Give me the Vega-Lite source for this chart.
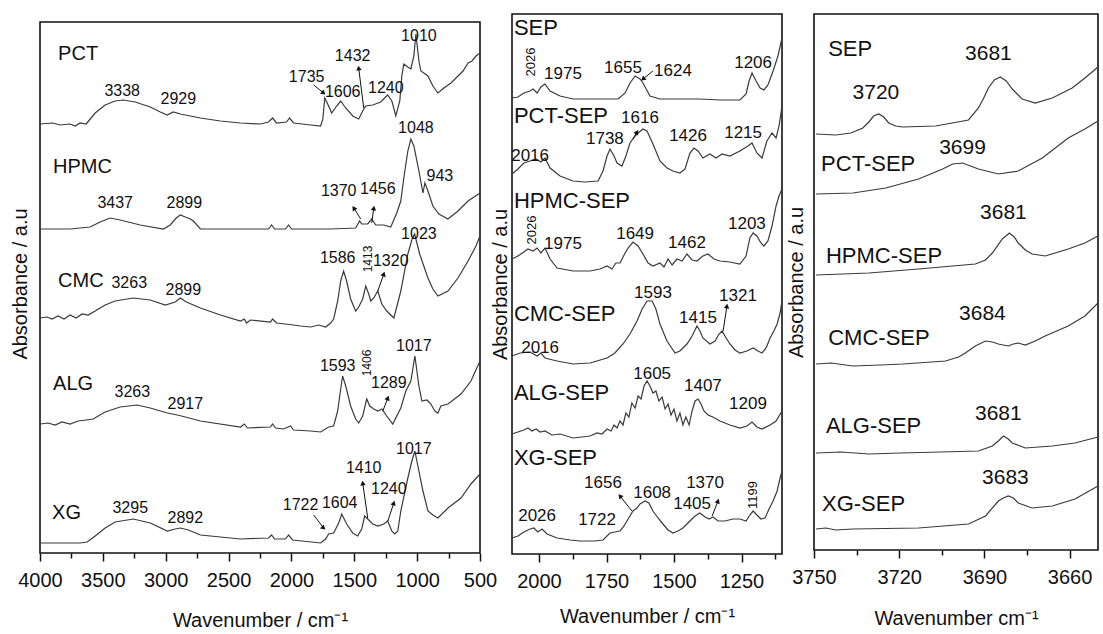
{
"$schema": "https://vega.github.io/schema/vega-lite/v6.json",
"background": "white",
"padding": {"left": 10, "top": 13, "right": 2, "bottom": 0},
"config": {
  "font": "Liberation Sans",
  "view": {"stroke": "#111", "strokeWidth": 1.6},
  "axis": {"grid": false, "domain": false, "labelFont": "Liberation Sans", "titleFont": "Liberation Sans", "labelFontSize": 20, "titleFontSize": 20, "titleFontWeight": "normal", "labelColor": "#111", "titleColor": "#111", "tickColor": "#111", "tickWidth": 1.5}
},
"datasets": {
  "frame1": [{"w": 4000, "w2": 500, "a": 0, "a2": 531}],
  "p1": [
    {"s":"PCT","w":4000,"a":429},{"s":"PCT","w":3900,"a":430},{"s":"PCT","w":3841,"a":428},{"s":"PCT","w":3761,"a":429},{"s":"PCT","w":3720,"a":427},{"s":"PCT","w":3681,"a":430},{"s":"PCT","w":3633,"a":429},{"s":"PCT","w":3561,"a":440},{"s":"PCT","w":3482,"a":448},{"s":"PCT","w":3402,"a":452},{"s":"PCT","w":3338,"a":453},{"s":"PCT","w":3243,"a":451},{"s":"PCT","w":3123,"a":446},{"s":"PCT","w":3043,"a":441},{"s":"PCT","w":2987,"a":438},{"s":"PCT","w":2940,"a":441},{"s":"PCT","w":2884,"a":439},{"s":"PCT","w":2724,"a":435},{"s":"PCT","w":2565,"a":432},{"s":"PCT","w":2405,"a":430},{"s":"PCT","w":2246,"a":429},{"s":"PCT","w":2182,"a":431},{"s":"PCT","w":2150,"a":435},{"s":"PCT","w":2118,"a":430},{"s":"PCT","w":2039,"a":431},{"s":"PCT","w":2015,"a":435},{"s":"PCT","w":1983,"a":430},{"s":"PCT","w":1847,"a":428},{"s":"PCT","w":1768,"a":427},{"s":"PCT","w":1750,"a":434},{"s":"PCT","w":1735,"a":455},{"s":"PCT","w":1704,"a":447},{"s":"PCT","w":1680,"a":440},{"s":"PCT","w":1640,"a":447},{"s":"PCT","w":1608,"a":452},{"s":"PCT","w":1568,"a":445},{"s":"PCT","w":1512,"a":437},{"s":"PCT","w":1465,"a":434},{"s":"PCT","w":1433,"a":442},{"s":"PCT","w":1409,"a":447},{"s":"PCT","w":1353,"a":448},{"s":"PCT","w":1290,"a":451},{"s":"PCT","w":1235,"a":458},{"s":"PCT","w":1201,"a":452},{"s":"PCT","w":1170,"a":437},{"s":"PCT","w":1138,"a":452},{"s":"PCT","w":1122,"a":477},{"s":"PCT","w":1106,"a":489},{"s":"PCT","w":1074,"a":486},{"s":"PCT","w":1050,"a":484},{"s":"PCT","w":1026,"a":497},{"s":"PCT","w":1010,"a":519},{"s":"PCT","w":986,"a":492},{"s":"PCT","w":970,"a":482},{"s":"PCT","w":914,"a":477},{"s":"PCT","w":875,"a":467},{"s":"PCT","w":835,"a":460},{"s":"PCT","w":787,"a":465},{"s":"PCT","w":731,"a":470},{"s":"PCT","w":675,"a":477},{"s":"PCT","w":635,"a":482},{"s":"PCT","w":595,"a":490},{"s":"PCT","w":564,"a":492},{"s":"PCT","w":532,"a":497},{"s":"PCT","w":500,"a":500},
    {"s":"HPMC","w":4000,"a":324},{"s":"HPMC","w":3761,"a":324},{"s":"HPMC","w":3601,"a":326},{"s":"HPMC","w":3522,"a":331},{"s":"HPMC","w":3442,"a":335},{"s":"HPMC","w":3362,"a":333},{"s":"HPMC","w":3203,"a":328},{"s":"HPMC","w":3019,"a":324},{"s":"HPMC","w":2964,"a":328},{"s":"HPMC","w":2916,"a":335},{"s":"HPMC","w":2884,"a":338},{"s":"HPMC","w":2844,"a":336},{"s":"HPMC","w":2804,"a":334},{"s":"HPMC","w":2780,"a":332},{"s":"HPMC","w":2724,"a":324},{"s":"HPMC","w":2405,"a":324},{"s":"HPMC","w":2182,"a":324},{"s":"HPMC","w":2158,"a":328},{"s":"HPMC","w":2134,"a":324},{"s":"HPMC","w":2047,"a":324},{"s":"HPMC","w":2023,"a":328},{"s":"HPMC","w":1999,"a":324},{"s":"HPMC","w":1688,"a":324},{"s":"HPMC","w":1489,"a":325},{"s":"HPMC","w":1457,"a":332},{"s":"HPMC","w":1441,"a":329},{"s":"HPMC","w":1393,"a":329},{"s":"HPMC","w":1361,"a":334},{"s":"HPMC","w":1329,"a":328},{"s":"HPMC","w":1265,"a":328},{"s":"HPMC","w":1210,"a":326},{"s":"HPMC","w":1162,"a":340},{"s":"HPMC","w":1130,"a":352},{"s":"HPMC","w":1106,"a":375},{"s":"HPMC","w":1074,"a":402},{"s":"HPMC","w":1050,"a":414},{"s":"HPMC","w":1026,"a":407},{"s":"HPMC","w":986,"a":382},{"s":"HPMC","w":954,"a":360},{"s":"HPMC","w":938,"a":370},{"s":"HPMC","w":914,"a":362},{"s":"HPMC","w":875,"a":347},{"s":"HPMC","w":827,"a":339},{"s":"HPMC","w":755,"a":334},{"s":"HPMC","w":675,"a":342},{"s":"HPMC","w":595,"a":352},{"s":"HPMC","w":500,"a":360},
    {"s":"CMC","w":4000,"a":235},{"s":"CMC","w":3944,"a":236},{"s":"CMC","w":3904,"a":234},{"s":"CMC","w":3856,"a":237},{"s":"CMC","w":3809,"a":234},{"s":"CMC","w":3761,"a":238},{"s":"CMC","w":3713,"a":235},{"s":"CMC","w":3665,"a":239},{"s":"CMC","w":3617,"a":238},{"s":"CMC","w":3561,"a":242},{"s":"CMC","w":3482,"a":248},{"s":"CMC","w":3402,"a":252},{"s":"CMC","w":3258,"a":255},{"s":"CMC","w":3123,"a":253},{"s":"CMC","w":3003,"a":248},{"s":"CMC","w":2924,"a":251},{"s":"CMC","w":2884,"a":255},{"s":"CMC","w":2836,"a":251},{"s":"CMC","w":2724,"a":245},{"s":"CMC","w":2565,"a":238},{"s":"CMC","w":2405,"a":232},{"s":"CMC","w":2374,"a":234},{"s":"CMC","w":2358,"a":230},{"s":"CMC","w":2326,"a":233},{"s":"CMC","w":2166,"a":231},{"s":"CMC","w":2150,"a":234},{"s":"CMC","w":2118,"a":230},{"s":"CMC","w":1983,"a":228},{"s":"CMC","w":1927,"a":227},{"s":"CMC","w":1847,"a":226},{"s":"CMC","w":1784,"a":228},{"s":"CMC","w":1728,"a":226},{"s":"CMC","w":1688,"a":230},{"s":"CMC","w":1664,"a":234},{"s":"CMC","w":1632,"a":252},{"s":"CMC","w":1608,"a":272},{"s":"CMC","w":1585,"a":282},{"s":"CMC","w":1561,"a":272},{"s":"CMC","w":1529,"a":254},{"s":"CMC","w":1489,"a":242},{"s":"CMC","w":1465,"a":246},{"s":"CMC","w":1433,"a":254},{"s":"CMC","w":1409,"a":267},{"s":"CMC","w":1385,"a":259},{"s":"CMC","w":1369,"a":252},{"s":"CMC","w":1345,"a":255},{"s":"CMC","w":1313,"a":262},{"s":"CMC","w":1281,"a":249},{"s":"CMC","w":1242,"a":242},{"s":"CMC","w":1185,"a":235},{"s":"CMC","w":1130,"a":262},{"s":"CMC","w":1074,"a":299},{"s":"CMC","w":1040,"a":314},{"s":"CMC","w":1020,"a":319},{"s":"CMC","w":980,"a":299},{"s":"CMC","w":914,"a":275},{"s":"CMC","w":875,"a":264},{"s":"CMC","w":835,"a":257},{"s":"CMC","w":755,"a":262},{"s":"CMC","w":675,"a":275},{"s":"CMC","w":595,"a":292},{"s":"CMC","w":532,"a":307},{"s":"CMC","w":500,"a":317},
    {"s":"ALG","w":4000,"a":129},{"s":"ALG","w":3936,"a":130},{"s":"ALG","w":3880,"a":128},{"s":"ALG","w":3825,"a":131},{"s":"ALG","w":3761,"a":129},{"s":"ALG","w":3697,"a":132},{"s":"ALG","w":3633,"a":133},{"s":"ALG","w":3577,"a":134},{"s":"ALG","w":3482,"a":141},{"s":"ALG","w":3362,"a":146},{"s":"ALG","w":3227,"a":148},{"s":"ALG","w":3123,"a":145},{"s":"ALG","w":2987,"a":140},{"s":"ALG","w":2907,"a":138},{"s":"ALG","w":2844,"a":136},{"s":"ALG","w":2724,"a":132},{"s":"ALG","w":2405,"a":126},{"s":"ALG","w":2374,"a":129},{"s":"ALG","w":2350,"a":125},{"s":"ALG","w":2166,"a":126},{"s":"ALG","w":2150,"a":129},{"s":"ALG","w":2126,"a":125},{"s":"ALG","w":2063,"a":124},{"s":"ALG","w":2007,"a":127},{"s":"ALG","w":1983,"a":123},{"s":"ALG","w":1847,"a":122},{"s":"ALG","w":1768,"a":121},{"s":"ALG","w":1704,"a":126},{"s":"ALG","w":1664,"a":127},{"s":"ALG","w":1632,"a":142},{"s":"ALG","w":1608,"a":164},{"s":"ALG","w":1593,"a":177},{"s":"ALG","w":1568,"a":167},{"s":"ALG","w":1529,"a":147},{"s":"ALG","w":1489,"a":134},{"s":"ALG","w":1465,"a":130},{"s":"ALG","w":1433,"a":137},{"s":"ALG","w":1401,"a":154},{"s":"ALG","w":1377,"a":147},{"s":"ALG","w":1345,"a":144},{"s":"ALG","w":1313,"a":142},{"s":"ALG","w":1281,"a":144},{"s":"ALG","w":1242,"a":137},{"s":"ALG","w":1194,"a":129},{"s":"ALG","w":1130,"a":145},{"s":"ALG","w":1090,"a":162},{"s":"ALG","w":1050,"a":172},{"s":"ALG","w":1018,"a":197},{"s":"ALG","w":986,"a":167},{"s":"ALG","w":962,"a":152},{"s":"ALG","w":922,"a":153},{"s":"ALG","w":891,"a":149},{"s":"ALG","w":859,"a":142},{"s":"ALG","w":835,"a":140},{"s":"ALG","w":811,"a":147},{"s":"ALG","w":755,"a":149},{"s":"ALG","w":651,"a":159},{"s":"ALG","w":572,"a":172},{"s":"ALG","w":500,"a":192},
    {"s":"XG","w":4000,"a":10},{"s":"XG","w":3841,"a":10},{"s":"XG","w":3681,"a":10},{"s":"XG","w":3625,"a":11},{"s":"XG","w":3561,"a":17},{"s":"XG","w":3482,"a":25},{"s":"XG","w":3402,"a":31},{"s":"XG","w":3258,"a":34},{"s":"XG","w":3123,"a":30},{"s":"XG","w":2987,"a":22},{"s":"XG","w":2924,"a":24},{"s":"XG","w":2884,"a":25},{"s":"XG","w":2820,"a":23},{"s":"XG","w":2724,"a":18},{"s":"XG","w":2405,"a":14},{"s":"XG","w":2182,"a":15},{"s":"XG","w":2158,"a":18},{"s":"XG","w":2134,"a":14},{"s":"XG","w":2047,"a":14},{"s":"XG","w":2023,"a":18},{"s":"XG","w":1991,"a":13},{"s":"XG","w":1768,"a":10},{"s":"XG","w":1728,"a":14},{"s":"XG","w":1704,"a":19},{"s":"XG","w":1664,"a":20},{"s":"XG","w":1624,"a":30},{"s":"XG","w":1600,"a":39},{"s":"XG","w":1561,"a":29},{"s":"XG","w":1512,"a":20},{"s":"XG","w":1473,"a":17},{"s":"XG","w":1441,"a":24},{"s":"XG","w":1417,"a":37},{"s":"XG","w":1393,"a":34},{"s":"XG","w":1353,"a":29},{"s":"XG","w":1313,"a":27},{"s":"XG","w":1265,"a":29},{"s":"XG","w":1234,"a":32},{"s":"XG","w":1202,"a":22},{"s":"XG","w":1178,"a":19},{"s":"XG","w":1154,"a":22},{"s":"XG","w":1130,"a":42},{"s":"XG","w":1074,"a":75},{"s":"XG","w":1042,"a":92},{"s":"XG","w":1018,"a":102},{"s":"XG","w":986,"a":82},{"s":"XG","w":954,"a":62},{"s":"XG","w":914,"a":42},{"s":"XG","w":875,"a":38},{"s":"XG","w":835,"a":35},{"s":"XG","w":755,"a":45},{"s":"XG","w":651,"a":55},{"s":"XG","w":572,"a":69},{"s":"XG","w":500,"a":79}
  ],
  "n1": [
    {"w":3856,"a":499,"t":"PCT"},{"w":3896,"a":386,"t":"HPMC"},{"w":3856,"a":272,"t":"CMC"},{"w":3896,"a":169,"t":"ALG"},{"w":3904,"a":40,"t":"XG"}
  ],
  "k1": [
    {"w":3346,"a":462,"t":"3338"},{"w":2900,"a":454,"t":"2929"},{"w":1879,"a":476,"t":"1735"},{"w":1592,"a":461,"t":"1606"},{"w":1513,"a":497,"t":"1432"},{"w":1249,"a":465,"t":"1240"},{"w":986,"a":517,"t":"1010"},
    {"w":1010,"a":425,"t":"1048"},{"w":819,"a":377,"t":"943"},{"w":1624,"a":362,"t":"1370"},{"w":1313,"a":364,"t":"1456"},{"w":3402,"a":350,"t":"3437"},{"w":2852,"a":350,"t":"2899"},
    {"w":986,"a":319,"t":"1023"},{"w":1632,"a":295,"t":"1586"},{"w":1210,"a":292,"t":"1320"},{"w":3290,"a":270,"t":"3263"},{"w":2860,"a":263,"t":"2899"},
    {"w":1026,"a":207,"t":"1017"},{"w":1632,"a":187,"t":"1593"},{"w":1225,"a":170,"t":"1289"},{"w":3266,"a":161,"t":"3263"},{"w":2844,"a":149,"t":"2917"},
    {"w":1026,"a":104,"t":"1017"},{"w":1425,"a":85,"t":"1410"},{"w":1225,"a":64,"t":"1240"},{"w":1927,"a":48,"t":"1722"},{"w":1616,"a":50,"t":"1604"},{"w":3282,"a":45,"t":"3295"},{"w":2844,"a":35,"t":"2892"}
  ],
  "r1": [
    {"w":1393,"a":294,"t":"1413"},{"w":1401,"a":190,"t":"1406"}
  ],
  "ar1": [
    {"w":1823,"a":468,"w2":1744,"a2":460,"d":129},{"w":1425,"a":445,"w2":1465,"a2":485,"d":-7},{"w":1449,"a":334,"w2":1504,"a2":345,"d":-32},{"w":1361,"a":330,"w2":1345,"a2":345,"d":8},{"w":1313,"a":262,"w2":1265,"a2":279,"d":19},{"w":1273,"a":142,"w2":1233,"a2":155,"d":21},{"w":1823,"a":38,"w2":1744,"a2":25,"d":132},{"w":1393,"a":35,"w2":1433,"a2":70,"d":-8},{"w":1233,"a":32,"w2":1186,"a2":50,"d":18}
  ],
  "p2": [
    {"s":"SEP","w":2100,"a":456},{"s":"SEP","w":2078,"a":457},{"s":"SEP","w":2056,"a":461},{"s":"SEP","w":2033,"a":463},{"s":"SEP","w":2022,"a":465},{"s":"SEP","w":2007,"a":461},{"s":"SEP","w":1993,"a":467},{"s":"SEP","w":1978,"a":470},{"s":"SEP","w":1959,"a":463},{"s":"SEP","w":1937,"a":460},{"s":"SEP","w":1922,"a":458},{"s":"SEP","w":1874,"a":455},{"s":"SEP","w":1774,"a":455},{"s":"SEP","w":1707,"a":455},{"s":"SEP","w":1681,"a":461},{"s":"SEP","w":1663,"a":471},{"s":"SEP","w":1644,"a":478},{"s":"SEP","w":1626,"a":475},{"s":"SEP","w":1615,"a":471},{"s":"SEP","w":1589,"a":458},{"s":"SEP","w":1552,"a":455},{"s":"SEP","w":1504,"a":455},{"s":"SEP","w":1404,"a":455},{"s":"SEP","w":1330,"a":454},{"s":"SEP","w":1256,"a":454},{"s":"SEP","w":1233,"a":460},{"s":"SEP","w":1222,"a":473},{"s":"SEP","w":1211,"a":481},{"s":"SEP","w":1196,"a":473},{"s":"SEP","w":1181,"a":466},{"s":"SEP","w":1167,"a":464},{"s":"SEP","w":1152,"a":469},{"s":"SEP","w":1133,"a":483},{"s":"SEP","w":1115,"a":498},{"s":"SEP","w":1100,"a":516},
    {"s":"PCT-SEP","w":2100,"a":380},{"s":"PCT-SEP","w":2078,"a":385},{"s":"PCT-SEP","w":2056,"a":391},{"s":"PCT-SEP","w":2033,"a":393},{"s":"PCT-SEP","w":2011,"a":395},{"s":"PCT-SEP","w":1993,"a":392},{"s":"PCT-SEP","w":1978,"a":396},{"s":"PCT-SEP","w":1959,"a":386},{"s":"PCT-SEP","w":1922,"a":378},{"s":"PCT-SEP","w":1874,"a":373},{"s":"PCT-SEP","w":1830,"a":372},{"s":"PCT-SEP","w":1781,"a":373},{"s":"PCT-SEP","w":1763,"a":383},{"s":"PCT-SEP","w":1748,"a":398},{"s":"PCT-SEP","w":1737,"a":405},{"s":"PCT-SEP","w":1722,"a":398},{"s":"PCT-SEP","w":1711,"a":391},{"s":"PCT-SEP","w":1693,"a":388},{"s":"PCT-SEP","w":1678,"a":398},{"s":"PCT-SEP","w":1663,"a":411},{"s":"PCT-SEP","w":1644,"a":418},{"s":"PCT-SEP","w":1633,"a":421},{"s":"PCT-SEP","w":1615,"a":425},{"s":"PCT-SEP","w":1600,"a":423},{"s":"PCT-SEP","w":1578,"a":410},{"s":"PCT-SEP","w":1552,"a":393},{"s":"PCT-SEP","w":1526,"a":386},{"s":"PCT-SEP","w":1504,"a":383},{"s":"PCT-SEP","w":1478,"a":381},{"s":"PCT-SEP","w":1459,"a":385},{"s":"PCT-SEP","w":1441,"a":401},{"s":"PCT-SEP","w":1426,"a":406},{"s":"PCT-SEP","w":1411,"a":403},{"s":"PCT-SEP","w":1393,"a":396},{"s":"PCT-SEP","w":1367,"a":400},{"s":"PCT-SEP","w":1344,"a":396},{"s":"PCT-SEP","w":1322,"a":400},{"s":"PCT-SEP","w":1293,"a":398},{"s":"PCT-SEP","w":1256,"a":403},{"s":"PCT-SEP","w":1226,"a":408},{"s":"PCT-SEP","w":1211,"a":411},{"s":"PCT-SEP","w":1193,"a":401},{"s":"PCT-SEP","w":1174,"a":396},{"s":"PCT-SEP","w":1156,"a":413},{"s":"PCT-SEP","w":1137,"a":421},{"s":"PCT-SEP","w":1122,"a":416},{"s":"PCT-SEP","w":1111,"a":428},{"s":"PCT-SEP","w":1100,"a":448},
    {"s":"HPMC-SEP","w":2100,"a":295},{"s":"HPMC-SEP","w":2078,"a":298},{"s":"HPMC-SEP","w":2056,"a":302},{"s":"HPMC-SEP","w":2041,"a":305},{"s":"HPMC-SEP","w":2022,"a":303},{"s":"HPMC-SEP","w":2007,"a":306},{"s":"HPMC-SEP","w":1993,"a":301},{"s":"HPMC-SEP","w":1978,"a":306},{"s":"HPMC-SEP","w":1959,"a":295},{"s":"HPMC-SEP","w":1933,"a":286},{"s":"HPMC-SEP","w":1874,"a":283},{"s":"HPMC-SEP","w":1811,"a":283},{"s":"HPMC-SEP","w":1774,"a":285},{"s":"HPMC-SEP","w":1748,"a":288},{"s":"HPMC-SEP","w":1730,"a":285},{"s":"HPMC-SEP","w":1715,"a":291},{"s":"HPMC-SEP","w":1700,"a":291},{"s":"HPMC-SEP","w":1681,"a":301},{"s":"HPMC-SEP","w":1670,"a":306},{"s":"HPMC-SEP","w":1652,"a":312},{"s":"HPMC-SEP","w":1633,"a":308},{"s":"HPMC-SEP","w":1615,"a":300},{"s":"HPMC-SEP","w":1596,"a":291},{"s":"HPMC-SEP","w":1578,"a":288},{"s":"HPMC-SEP","w":1552,"a":291},{"s":"HPMC-SEP","w":1537,"a":287},{"s":"HPMC-SEP","w":1522,"a":295},{"s":"HPMC-SEP","w":1507,"a":289},{"s":"HPMC-SEP","w":1489,"a":295},{"s":"HPMC-SEP","w":1470,"a":293},{"s":"HPMC-SEP","w":1452,"a":300},{"s":"HPMC-SEP","w":1433,"a":294},{"s":"HPMC-SEP","w":1415,"a":293},{"s":"HPMC-SEP","w":1393,"a":298},{"s":"HPMC-SEP","w":1374,"a":300},{"s":"HPMC-SEP","w":1352,"a":295},{"s":"HPMC-SEP","w":1330,"a":293},{"s":"HPMC-SEP","w":1293,"a":292},{"s":"HPMC-SEP","w":1256,"a":290},{"s":"HPMC-SEP","w":1233,"a":298},{"s":"HPMC-SEP","w":1219,"a":316},{"s":"HPMC-SEP","w":1207,"a":321},{"s":"HPMC-SEP","w":1193,"a":318},{"s":"HPMC-SEP","w":1178,"a":311},{"s":"HPMC-SEP","w":1167,"a":308},{"s":"HPMC-SEP","w":1152,"a":313},{"s":"HPMC-SEP","w":1137,"a":328},{"s":"HPMC-SEP","w":1122,"a":348},{"s":"HPMC-SEP","w":1111,"a":358},{"s":"HPMC-SEP","w":1100,"a":365},
    {"s":"CMC-SEP","w":2100,"a":198},{"s":"CMC-SEP","w":2070,"a":201},{"s":"CMC-SEP","w":2033,"a":202},{"s":"CMC-SEP","w":2007,"a":198},{"s":"CMC-SEP","w":1993,"a":201},{"s":"CMC-SEP","w":1978,"a":196},{"s":"CMC-SEP","w":1933,"a":193},{"s":"CMC-SEP","w":1874,"a":190},{"s":"CMC-SEP","w":1811,"a":191},{"s":"CMC-SEP","w":1748,"a":196},{"s":"CMC-SEP","w":1719,"a":201},{"s":"CMC-SEP","w":1689,"a":210},{"s":"CMC-SEP","w":1663,"a":220},{"s":"CMC-SEP","w":1637,"a":233},{"s":"CMC-SEP","w":1618,"a":245},{"s":"CMC-SEP","w":1600,"a":253},{"s":"CMC-SEP","w":1581,"a":253},{"s":"CMC-SEP","w":1567,"a":245},{"s":"CMC-SEP","w":1552,"a":230},{"s":"CMC-SEP","w":1526,"a":213},{"s":"CMC-SEP","w":1496,"a":201},{"s":"CMC-SEP","w":1478,"a":203},{"s":"CMC-SEP","w":1452,"a":210},{"s":"CMC-SEP","w":1433,"a":218},{"s":"CMC-SEP","w":1415,"a":228},{"s":"CMC-SEP","w":1404,"a":223},{"s":"CMC-SEP","w":1393,"a":216},{"s":"CMC-SEP","w":1367,"a":210},{"s":"CMC-SEP","w":1348,"a":213},{"s":"CMC-SEP","w":1333,"a":220},{"s":"CMC-SEP","w":1322,"a":223},{"s":"CMC-SEP","w":1307,"a":216},{"s":"CMC-SEP","w":1293,"a":210},{"s":"CMC-SEP","w":1274,"a":204},{"s":"CMC-SEP","w":1256,"a":201},{"s":"CMC-SEP","w":1230,"a":203},{"s":"CMC-SEP","w":1207,"a":206},{"s":"CMC-SEP","w":1189,"a":203},{"s":"CMC-SEP","w":1174,"a":201},{"s":"CMC-SEP","w":1159,"a":206},{"s":"CMC-SEP","w":1144,"a":216},{"s":"CMC-SEP","w":1130,"a":223},{"s":"CMC-SEP","w":1118,"a":230},{"s":"CMC-SEP","w":1107,"a":241},{"s":"CMC-SEP","w":1100,"a":253},
    {"s":"ALG-SEP","w":2100,"a":120},{"s":"ALG-SEP","w":2078,"a":122},{"s":"ALG-SEP","w":2056,"a":124},{"s":"ALG-SEP","w":2041,"a":126},{"s":"ALG-SEP","w":2026,"a":123},{"s":"ALG-SEP","w":2011,"a":125},{"s":"ALG-SEP","w":1996,"a":122},{"s":"ALG-SEP","w":1978,"a":123},{"s":"ALG-SEP","w":1952,"a":119},{"s":"ALG-SEP","w":1922,"a":120},{"s":"ALG-SEP","w":1874,"a":116},{"s":"ALG-SEP","w":1841,"a":117},{"s":"ALG-SEP","w":1811,"a":118},{"s":"ALG-SEP","w":1785,"a":121},{"s":"ALG-SEP","w":1767,"a":120},{"s":"ALG-SEP","w":1748,"a":125},{"s":"ALG-SEP","w":1733,"a":123},{"s":"ALG-SEP","w":1722,"a":129},{"s":"ALG-SEP","w":1711,"a":126},{"s":"ALG-SEP","w":1700,"a":133},{"s":"ALG-SEP","w":1689,"a":129},{"s":"ALG-SEP","w":1678,"a":141},{"s":"ALG-SEP","w":1667,"a":137},{"s":"ALG-SEP","w":1656,"a":151},{"s":"ALG-SEP","w":1644,"a":146},{"s":"ALG-SEP","w":1633,"a":158},{"s":"ALG-SEP","w":1622,"a":155},{"s":"ALG-SEP","w":1611,"a":168},{"s":"ALG-SEP","w":1600,"a":173},{"s":"ALG-SEP","w":1589,"a":168},{"s":"ALG-SEP","w":1578,"a":161},{"s":"ALG-SEP","w":1567,"a":163},{"s":"ALG-SEP","w":1556,"a":153},{"s":"ALG-SEP","w":1544,"a":157},{"s":"ALG-SEP","w":1533,"a":145},{"s":"ALG-SEP","w":1522,"a":150},{"s":"ALG-SEP","w":1511,"a":139},{"s":"ALG-SEP","w":1500,"a":145},{"s":"ALG-SEP","w":1489,"a":133},{"s":"ALG-SEP","w":1478,"a":141},{"s":"ALG-SEP","w":1467,"a":129},{"s":"ALG-SEP","w":1456,"a":137},{"s":"ALG-SEP","w":1444,"a":129},{"s":"ALG-SEP","w":1433,"a":143},{"s":"ALG-SEP","w":1422,"a":153},{"s":"ALG-SEP","w":1411,"a":155},{"s":"ALG-SEP","w":1400,"a":150},{"s":"ALG-SEP","w":1389,"a":143},{"s":"ALG-SEP","w":1374,"a":139},{"s":"ALG-SEP","w":1356,"a":137},{"s":"ALG-SEP","w":1330,"a":133},{"s":"ALG-SEP","w":1293,"a":129},{"s":"ALG-SEP","w":1256,"a":126},{"s":"ALG-SEP","w":1230,"a":128},{"s":"ALG-SEP","w":1211,"a":132},{"s":"ALG-SEP","w":1193,"a":127},{"s":"ALG-SEP","w":1174,"a":125},{"s":"ALG-SEP","w":1144,"a":129},{"s":"ALG-SEP","w":1122,"a":133},{"s":"ALG-SEP","w":1100,"a":143},
    {"s":"XG-SEP","w":2100,"a":16},{"s":"XG-SEP","w":2078,"a":18},{"s":"XG-SEP","w":2056,"a":22},{"s":"XG-SEP","w":2033,"a":25},{"s":"XG-SEP","w":2019,"a":26},{"s":"XG-SEP","w":2004,"a":22},{"s":"XG-SEP","w":1989,"a":25},{"s":"XG-SEP","w":1970,"a":20},{"s":"XG-SEP","w":1933,"a":16},{"s":"XG-SEP","w":1885,"a":14},{"s":"XG-SEP","w":1848,"a":13},{"s":"XG-SEP","w":1793,"a":13},{"s":"XG-SEP","w":1763,"a":14},{"s":"XG-SEP","w":1737,"a":21},{"s":"XG-SEP","w":1719,"a":22},{"s":"XG-SEP","w":1700,"a":23},{"s":"XG-SEP","w":1685,"a":28},{"s":"XG-SEP","w":1670,"a":35},{"s":"XG-SEP","w":1652,"a":43},{"s":"XG-SEP","w":1637,"a":46},{"s":"XG-SEP","w":1626,"a":50},{"s":"XG-SEP","w":1607,"a":53},{"s":"XG-SEP","w":1593,"a":51},{"s":"XG-SEP","w":1578,"a":43},{"s":"XG-SEP","w":1559,"a":36},{"s":"XG-SEP","w":1541,"a":30},{"s":"XG-SEP","w":1522,"a":24},{"s":"XG-SEP","w":1504,"a":21},{"s":"XG-SEP","w":1485,"a":23},{"s":"XG-SEP","w":1467,"a":26},{"s":"XG-SEP","w":1441,"a":33},{"s":"XG-SEP","w":1422,"a":38},{"s":"XG-SEP","w":1404,"a":41},{"s":"XG-SEP","w":1385,"a":37},{"s":"XG-SEP","w":1370,"a":35},{"s":"XG-SEP","w":1356,"a":37},{"s":"XG-SEP","w":1337,"a":33},{"s":"XG-SEP","w":1311,"a":33},{"s":"XG-SEP","w":1282,"a":35},{"s":"XG-SEP","w":1256,"a":35},{"s":"XG-SEP","w":1233,"a":33},{"s":"XG-SEP","w":1219,"a":39},{"s":"XG-SEP","w":1207,"a":43},{"s":"XG-SEP","w":1193,"a":39},{"s":"XG-SEP","w":1178,"a":35},{"s":"XG-SEP","w":1163,"a":36},{"s":"XG-SEP","w":1148,"a":45},{"s":"XG-SEP","w":1133,"a":53},{"s":"XG-SEP","w":1118,"a":63},{"s":"XG-SEP","w":1107,"a":76},{"s":"XG-SEP","w":1100,"a":83}
  ],
  "n2": [
    {"w":2093,"a":526,"t":"SEP"},{"w":2093,"a":438,"t":"PCT-SEP"},{"w":2093,"a":353,"t":"HPMC-SEP"},{"w":2093,"a":240,"t":"CMC-SEP"},{"w":2093,"a":161,"t":"ALG-SEP"},{"w":2093,"a":96,"t":"XG-SEP"}
  ],
  "k2": [
    {"w":1911,"a":480,"t":"1975"},{"w":1689,"a":486,"t":"1655"},{"w":1504,"a":483,"t":"1624"},{"w":1207,"a":491,"t":"1206"},
    {"w":1626,"a":436,"t":"1616"},{"w":1756,"a":415,"t":"1738"},{"w":1448,"a":418,"t":"1426"},{"w":1244,"a":421,"t":"1215"},{"w":2033,"a":398,"t":"2016"},
    {"w":1911,"a":310,"t":"1975"},{"w":1644,"a":320,"t":"1649"},{"w":1452,"a":311,"t":"1462"},{"w":1230,"a":330,"t":"1203"},
    {"w":1578,"a":261,"t":"1593"},{"w":1411,"a":236,"t":"1415"},{"w":1263,"a":258,"t":"1321"},{"w":1996,"a":206,"t":"2016"},
    {"w":1581,"a":180,"t":"1605"},{"w":1393,"a":168,"t":"1407"},{"w":1226,"a":150,"t":"1209"},
    {"w":1785,"a":34,"t":"1722"},{"w":1763,"a":71,"t":"1656"},{"w":1581,"a":61,"t":"1608"},{"w":1433,"a":50,"t":"1405"},{"w":1385,"a":71,"t":"1370"},{"w":2007,"a":38,"t":"2026"}
  ],
  "r2": [
    {"w":2030,"a":492,"t":"2026"},{"w":2026,"a":324,"t":"2026"},{"w":1207,"a":59,"t":"1199"}
  ],
  "ar2": [
    {"w":1578,"a":483,"w2":1615,"a2":475,"d":-129},{"w":1652,"a":415,"w2":1637,"a2":422,"d":30},{"w":1318,"a":223,"w2":1304,"a2":248,"d":9},{"w":1656,"a":43,"w2":1700,"a2":58,"d":-39},{"w":1359,"a":38,"w2":1337,"a2":53,"d":22}
  ],
  "p3": [
    {"s":"SEP","w":3749.3,"a":416},{"s":"SEP","w":3742.3,"a":415},{"s":"SEP","w":3737,"a":417},{"s":"SEP","w":3732.8,"a":422},{"s":"SEP","w":3730.7,"a":428},{"s":"SEP","w":3729,"a":434},{"s":"SEP","w":3727.2,"a":436},{"s":"SEP","w":3725.4,"a":433},{"s":"SEP","w":3723.7,"a":427},{"s":"SEP","w":3721.2,"a":424},{"s":"SEP","w":3718.8,"a":423},{"s":"SEP","w":3707.2,"a":424},{"s":"SEP","w":3695.6,"a":430},{"s":"SEP","w":3692.1,"a":442},{"s":"SEP","w":3690.4,"a":451},{"s":"SEP","w":3688.6,"a":462},{"s":"SEP","w":3686.5,"a":470},{"s":"SEP","w":3684.4,"a":473},{"s":"SEP","w":3682.3,"a":469},{"s":"SEP","w":3680.2,"a":461},{"s":"SEP","w":3676.7,"a":451},{"s":"SEP","w":3672.1,"a":447},{"s":"SEP","w":3666.1,"a":452},{"s":"SEP","w":3659.1,"a":462},{"s":"SEP","w":3654.6,"a":472},{"s":"SEP","w":3650,"a":483},
    {"s":"PCT-SEP","w":3749.3,"a":356},{"s":"PCT-SEP","w":3736.3,"a":357},{"s":"PCT-SEP","w":3724.7,"a":362},{"s":"PCT-SEP","w":3713.2,"a":371},{"s":"PCT-SEP","w":3704.7,"a":381},{"s":"PCT-SEP","w":3701.2,"a":386},{"s":"PCT-SEP","w":3697.7,"a":387},{"s":"PCT-SEP","w":3694.9,"a":384},{"s":"PCT-SEP","w":3692.1,"a":381},{"s":"PCT-SEP","w":3685.1,"a":376},{"s":"PCT-SEP","w":3678.1,"a":379},{"s":"PCT-SEP","w":3669.6,"a":392},{"s":"PCT-SEP","w":3660.5,"a":412},{"s":"PCT-SEP","w":3654.6,"a":421},{"s":"PCT-SEP","w":3650,"a":429},
    {"s":"HPMC-SEP","w":3749.3,"a":275},{"s":"HPMC-SEP","w":3730.7,"a":277},{"s":"HPMC-SEP","w":3713.2,"a":281},{"s":"HPMC-SEP","w":3693.2,"a":286},{"s":"HPMC-SEP","w":3689.6,"a":290},{"s":"HPMC-SEP","w":3687.2,"a":297},{"s":"HPMC-SEP","w":3683.7,"a":311},{"s":"HPMC-SEP","w":3681.2,"a":317},{"s":"HPMC-SEP","w":3679.5,"a":313},{"s":"HPMC-SEP","w":3678.1,"a":307},{"s":"HPMC-SEP","w":3675.6,"a":300},{"s":"HPMC-SEP","w":3673.2,"a":296},{"s":"HPMC-SEP","w":3668.6,"a":294},{"s":"HPMC-SEP","w":3660.5,"a":301},{"s":"HPMC-SEP","w":3654.6,"a":307},{"s":"HPMC-SEP","w":3650,"a":314},
    {"s":"CMC-SEP","w":3749.3,"a":186},{"s":"CMC-SEP","w":3744,"a":187},{"s":"CMC-SEP","w":3736.3,"a":184},{"s":"CMC-SEP","w":3726.5,"a":185},{"s":"CMC-SEP","w":3718.8,"a":186},{"s":"CMC-SEP","w":3703.7,"a":189},{"s":"CMC-SEP","w":3699.1,"a":193},{"s":"CMC-SEP","w":3696.7,"a":197},{"s":"CMC-SEP","w":3693.2,"a":204},{"s":"CMC-SEP","w":3689.6,"a":209},{"s":"CMC-SEP","w":3687.2,"a":208},{"s":"CMC-SEP","w":3685.1,"a":206},{"s":"CMC-SEP","w":3681.6,"a":204},{"s":"CMC-SEP","w":3679.8,"a":206},{"s":"CMC-SEP","w":3678.1,"a":207},{"s":"CMC-SEP","w":3675.6,"a":205},{"s":"CMC-SEP","w":3672.1,"a":209},{"s":"CMC-SEP","w":3668.6,"a":214},{"s":"CMC-SEP","w":3660.5,"a":224},{"s":"CMC-SEP","w":3654.6,"a":234},{"s":"CMC-SEP","w":3650,"a":247},
    {"s":"ALG-SEP","w":3749.3,"a":97},{"s":"ALG-SEP","w":3740.5,"a":98},{"s":"ALG-SEP","w":3730.7,"a":96},{"s":"ALG-SEP","w":3719.5,"a":97},{"s":"ALG-SEP","w":3705.4,"a":98},{"s":"ALG-SEP","w":3692.1,"a":99},{"s":"ALG-SEP","w":3687.2,"a":104},{"s":"ALG-SEP","w":3685.1,"a":109},{"s":"ALG-SEP","w":3683.3,"a":114},{"s":"ALG-SEP","w":3681.6,"a":111},{"s":"ALG-SEP","w":3680.2,"a":107},{"s":"ALG-SEP","w":3675.6,"a":102},{"s":"ALG-SEP","w":3666.1,"a":104},{"s":"ALG-SEP","w":3658.1,"a":107},{"s":"ALG-SEP","w":3650,"a":113},
    {"s":"XG-SEP","w":3749.3,"a":21},{"s":"XG-SEP","w":3745.8,"a":22},{"s":"XG-SEP","w":3742.3,"a":20},{"s":"XG-SEP","w":3736.3,"a":21},{"s":"XG-SEP","w":3713.2,"a":22},{"s":"XG-SEP","w":3695.6,"a":26},{"s":"XG-SEP","w":3689.6,"a":34},{"s":"XG-SEP","w":3685.1,"a":49},{"s":"XG-SEP","w":3683.3,"a":52},{"s":"XG-SEP","w":3681.6,"a":54},{"s":"XG-SEP","w":3679.8,"a":52},{"s":"XG-SEP","w":3678.1,"a":47},{"s":"XG-SEP","w":3673.2,"a":42},{"s":"XG-SEP","w":3666.1,"a":44},{"s":"XG-SEP","w":3658.1,"a":51},{"s":"XG-SEP","w":3650,"a":64}
  ],
  "n3": [
    {"w":3745,"a":501,"t":"SEP"},{"w":3747.5,"a":386,"t":"PCT-SEP"},{"w":3745.8,"a":294,"t":"HPMC-SEP"},{"w":3745,"a":212,"t":"CMC-SEP"},{"w":3745.8,"a":124,"t":"ALG-SEP"},{"w":3747.2,"a":46,"t":"XG-SEP"}
  ],
  "k3": [
    {"w":3688.6,"a":496,"t":"3681"},{"w":3728.2,"a":457,"t":"3720"},{"w":3697.7,"a":402,"t":"3699"},{"w":3683.3,"a":337,"t":"3681"},{"w":3690.7,"a":236,"t":"3684"},{"w":3685.1,"a":136,"t":"3681"},{"w":3682.6,"a":72,"t":"3683"}
  ]
},
"bounds": "flush",
"spacing": 32,
"hconcat": [
  {
    "width": 440, "height": 539,
    "view": {"stroke": null},
    "encoding": {
      "x": {"field": "w", "type": "quantitative", "scale": {"domain": [4000, 500], "nice": false, "zero": false},
            "axis": {"title": "Wavenumber / cm⁻¹", "values": [4000,3750,3500,3250,3000,2750,2500,2250,2000,1750,1500,1250,1000,750,500], "format": "d", "labelExpr": "datum.value % 500 === 0 ? datum.label : ''", "labelFlush": false, "labelOverlap": false, "tickSize": {"condition": {"test": "datum.value % 500 === 0", "value": 8}, "value": 5}, "labelPadding": 9, "titlePadding": 20}},
      "y": {"field": "a", "type": "quantitative", "scale": {"domain": [0, 539], "nice": false, "zero": false},
            "axis": {"title": "Absorbance / a.u", "labels": false, "ticks": false, "titlePadding": 10}}
    },
    "layer": [
      {"data": {"name": "frame1"}, "mark": {"type": "rect", "filled": true, "fill": "white", "fillOpacity": 0, "stroke": "#111", "strokeWidth": 1.6}, "encoding": {"x2": {"field": "w2"}, "y2": {"field": "a2"}}},
      {"data": {"name": "p1"}, "mark": {"type": "line", "color": "#3a3a3a", "strokeWidth": 1.2}, "encoding": {"detail": {"field": "s"}}},
      {"data": {"name": "n1"}, "mark": {"type": "text", "align": "left", "baseline": "middle", "fontSize": 20, "color": "#111"}, "encoding": {"text": {"field": "t"}}},
      {"data": {"name": "k1"}, "mark": {"type": "text", "align": "center", "baseline": "middle", "fontSize": 16, "color": "#111"}, "encoding": {"text": {"field": "t"}}},
      {"data": {"name": "r1"}, "mark": {"type": "text", "align": "center", "baseline": "middle", "fontSize": 12, "angle": 270, "color": "#111"}, "encoding": {"text": {"field": "t"}}},
      {"data": {"name": "ar1"}, "mark": {"type": "rule", "color": "#111", "strokeWidth": 1}, "encoding": {"x2": {"field": "w2"}, "y2": {"field": "a2"}}},
      {"data": {"name": "ar1"}, "mark": {"type": "point", "shape": "triangle-up", "filled": true, "color": "#111", "size": 30, "opacity": 1}, "encoding": {"x": {"field": "w2", "type": "quantitative"}, "y": {"field": "a2", "type": "quantitative"}, "angle": {"field": "d", "type": "quantitative", "scale": null}}}
    ]
  },
  {
    "width": 270, "height": 540,
    "encoding": {
      "x": {"field": "w", "type": "quantitative", "scale": {"domain": [2100, 1100], "nice": false, "zero": false},
            "axis": {"title": "Wavenumber / cm⁻¹", "values": [2000,1875,1750,1625,1500,1375,1250,1125], "format": "d", "labelExpr": "datum.value % 250 === 0 ? datum.label : ''", "labelFlush": false, "labelOverlap": false, "tickSize": {"condition": {"test": "datum.value % 250 === 0", "value": 8}, "value": 5}, "labelPadding": 9, "titlePadding": 15}},
      "y": {"field": "a", "type": "quantitative", "scale": {"domain": [0, 540], "nice": false, "zero": false},
            "axis": {"title": "Absorbance / a.u", "labels": false, "ticks": false, "titlePadding": 2}}
    },
    "layer": [
      {"data": {"name": "p2"}, "mark": {"type": "line", "color": "#3a3a3a", "strokeWidth": 1.2}, "encoding": {"detail": {"field": "s"}}},
      {"data": {"name": "n2"}, "mark": {"type": "text", "align": "left", "baseline": "middle", "fontSize": 22, "color": "#111"}, "encoding": {"text": {"field": "t"}}},
      {"data": {"name": "k2"}, "mark": {"type": "text", "align": "center", "baseline": "middle", "fontSize": 17, "color": "#111"}, "encoding": {"text": {"field": "t"}}},
      {"data": {"name": "r2"}, "mark": {"type": "text", "align": "center", "baseline": "middle", "fontSize": 13, "angle": 270, "color": "#111"}, "encoding": {"text": {"field": "t"}}},
      {"data": {"name": "ar2"}, "mark": {"type": "rule", "color": "#111", "strokeWidth": 1}, "encoding": {"x2": {"field": "w2"}, "y2": {"field": "a2"}}},
      {"data": {"name": "ar2"}, "mark": {"type": "point", "shape": "triangle-up", "filled": true, "color": "#111", "size": 30, "opacity": 1}, "encoding": {"x": {"field": "w2", "type": "quantitative"}, "y": {"field": "a2", "type": "quantitative"}, "angle": {"field": "d", "type": "quantitative", "scale": null}}}
    ]
  },
  {
    "width": 284, "height": 536,
    "encoding": {
      "x": {"field": "w", "type": "quantitative", "scale": {"domain": [3750, 3650], "nice": false, "zero": false},
            "axis": {"title": "Wavenumber cm⁻¹", "values": [3750,3735,3720,3705,3690,3675,3660], "format": "d", "labelExpr": "datum.value % 30 === 0 ? datum.label : ''", "labelFlush": false, "labelOverlap": false, "tickSize": {"condition": {"test": "datum.value % 30 === 0", "value": 8}, "value": 5}, "labelPadding": 9, "titlePadding": 21}},
      "y": {"field": "a", "type": "quantitative", "scale": {"domain": [0, 536], "nice": false, "zero": false},
            "axis": {"title": "Absorbance / a.u", "labels": false, "ticks": false, "titlePadding": 8}}
    },
    "layer": [
      {"data": {"name": "p3"}, "mark": {"type": "line", "color": "#3a3a3a", "strokeWidth": 1.2}, "encoding": {"detail": {"field": "s"}}},
      {"data": {"name": "n3"}, "mark": {"type": "text", "align": "left", "baseline": "middle", "fontSize": 22, "color": "#111"}, "encoding": {"text": {"field": "t"}}},
      {"data": {"name": "k3"}, "mark": {"type": "text", "align": "center", "baseline": "middle", "fontSize": 21, "color": "#111"}, "encoding": {"text": {"field": "t"}}}
    ]
  }
]
}
